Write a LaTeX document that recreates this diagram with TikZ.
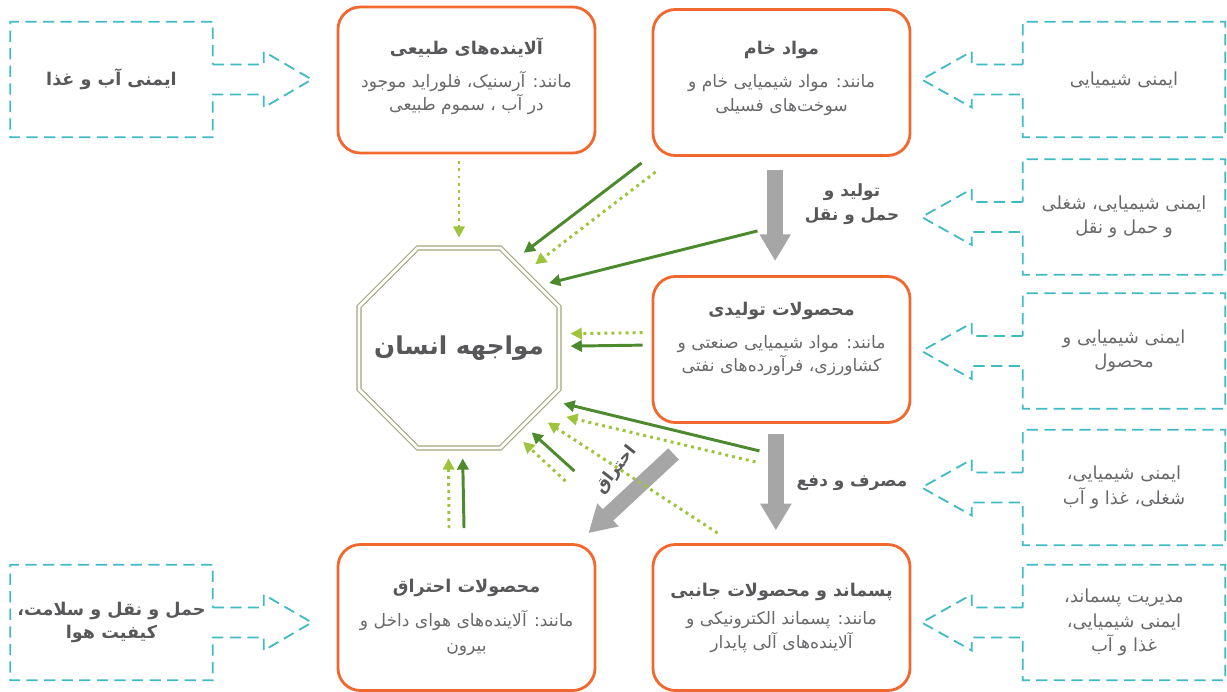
\documentclass[tikz,border=0pt]{standalone}
\usepackage{fontspec}
\usetikzlibrary{arrows.meta, shapes.geometric, positioning}
\TeXXeTstate=1
\newfontfamily\fafont[Script=Arabic]{DejaVu Sans}
\newcommand{\fa}[1]{\beginR #1\endR}
\definecolor{boxorange}{RGB}{240,104,45}
\definecolor{hintteal}{RGB}{64,186,196}
\definecolor{darkgreen}{RGB}{77,138,46}
\definecolor{lightgreen}{RGB}{157,196,60}
\definecolor{flowgray}{RGB}{166,166,166}
\definecolor{octolive}{RGB}{164,165,122}
\definecolor{titlegray}{RGB}{88,88,90}
\definecolor{bodygray}{RGB}{105,105,108}
\newcommand{\srctitle}[1]{{\fontsize{12.5}{17}\selectfont\bfseries\color{titlegray}\fa{#1}}}
\begin{document}
\begin{tikzpicture}[x=0.025cm, y=-0.025cm,
    every node/.style={font=\fafont\fontsize{12.2}{16.5}\selectfont, text=bodygray},
    srcbox/.style={draw=boxorange, line width=2pt, rounded corners=16pt, fill=white,
        minimum width=6.425cm, minimum height=3.65cm, align=center, inner sep=0pt},
    hintbox/.style={minimum width=5.05cm, minimum height=2.875cm, align=center, inner sep=0pt,
        font=\fafont\fontsize{12.8}{17.5}\selectfont},
    hintline/.style={draw=hintteal, line width=1.3pt, dash pattern=on 8pt off 4.5pt},
    flow/.style={draw=flowgray, line width=11pt, -{Triangle[length=19pt,width=21pt]}},
    solidarr/.style={draw=darkgreen, line width=2.1pt, -{Triangle[length=8pt,width=8pt]}},
    dotarr/.style={draw=lightgreen, line width=2.1pt, dash pattern=on 2.1pt off 2.9pt,
        -{Triangle[length=8pt,width=8pt]}},
    flowlabel/.style={font=\fafont\bfseries\fontsize{12}{17}\selectfont, text=titlegray, align=center}]
    \useasboundingbox (0,0) rectangle (1227,691);

    % Sources
    \node[srcbox] (natural) at (466.5,80)
        {\srctitle{آلاینده^^^^200cهای طبیعی}\\[7pt] \fa{مانند: آرسنیک، فلوراید موجود}\\ \fa{در آب ، سموم طبیعی}\\[-7.6pt]};
    \node[srcbox] (raw) at (781.5,82.5)
        {\srctitle{مواد خام}\\[7pt] \fa{مانند: مواد شیمیایی خام و}\\ \fa{سوخت^^^^200cهای فسیلی}\\[-7.6pt]};
    \node[srcbox] (prod) at (781.5,349.5)
        {\srctitle{محصولات تولیدی}\\[7pt] \fa{مانند: مواد شیمیایی صنعتی و}\\ \fa{کشاورزی، فرآورده^^^^200cهای نفتی}\\[2pt]};
    \node[srcbox] (waste) at (781.5,617.5)
        {\srctitle{پسماند و محصولات جانبی}\\[4pt] \fa{مانند: پسماند الکترونیکی و}\\ \fa{آلاینده^^^^200cهای آلی پایدار}};
    \node[srcbox] (comb) at (466.5,617.5)
        {\srctitle{محصولات احتراق}\\[8pt] \fa{مانند: آلاینده^^^^200cهای هوای داخل و}\\[1.5pt] \fa{بیرون}};

    % Human exposure
    \node[regular polygon, regular polygon sides=8, minimum size=5.41cm, inner sep=0pt,
        draw=octolive, line width=0.8pt, double=white, double distance=2pt,
        font=\fafont\bfseries\fontsize{17.5}{21}\selectfont, text=titlegray]
        (human) at (459,348) {\makebox[0pt]{\fa{مواجهه انسان}}};

    % Safety areas
    \node[hintbox, font=\fafont\bfseries\fontsize{12.5}{17.5}\selectfont, text=titlegray]
        (water) at (111.5,79.5) {\fa{ایمنی آب و غذا}};
    \node[hintbox, font=\fafont\bfseries\fontsize{12.5}{17}\selectfont, text=titlegray]
        (airq) at (111.5,622.5) {\fa{حمل و نقل و سلامت،}\\ \fa{کیفیت هوا}};
    \node[hintbox] (chem1) at (1124,79.5) {\fa{ایمنی شیمیایی}};
    \node[hintbox] (chem2) at (1124,217) {\fa{ایمنی شیمیایی، شغلی}\\ \fa{و حمل و نقل}};
    \node[hintbox] (chem3) at (1124,351) {\fa{ایمنی شیمیایی و}\\ \fa{محصول}};
    \node[hintbox] (chem4) at (1124,487.5) {\fa{ایمنی شیمیایی،}\\ \fa{شغلی، غذا و آب}};
    \node[hintbox] (chem5) at (1124,622.5) {\fa{مدیریت پسماند،}\\ \fa{ایمنی شیمیایی،}\\ \fa{غذا و آب}};

    % Dashed outlines with open arrows
    \foreach \n in {water, airq}
        \draw[hintline] (\n.east) ++(0,-15) -- ++(51,0) -- ++(0,-13) -- ++(48,28) -- ++(-48,28)
            -- ++(0,-13) -- ++(-51,0) -- (\n.south east) -- (\n.south west) -- (\n.north west)
            -- (\n.north east) -- cycle;
    \foreach \n in {chem1, chem2, chem3, chem4, chem5}
        \draw[hintline] (\n.west) ++(0,-15) -- ++(-51,0) -- ++(0,-13) -- ++(-50,28) -- ++(50,28)
            -- ++(0,-13) -- ++(51,0) -- (\n.south west) -- (\n.south east) -- (\n.north east)
            -- (\n.north west) -- cycle;

    % Life cycle flows
    \draw[flow, shorten <=9pt, shorten >=10pt] ([xshift=-4.5pt]raw.south) -- ([xshift=-4.5pt]prod.north);
    \draw[flow, shorten <=7.5pt, shorten >=9pt] ([xshift=-4pt]prod.south) -- ([xshift=-4pt]waste.north);
    \draw[flow] ([shift={(22,30)}]prod.south west) -- ([shift={(-8,-10)}]comb.north east);
    \node[flowlabel] (prodlabel) at (852,204) {\fa{تولید و}\\ \fa{حمل و نقل}};
    \node[flowlabel] (uselabel) at (852,483) {\fa{مصرف و دفع}};
    \node[flowlabel, rotate=52] (burnlabel) at (616,470) {\fa{احتراق}};

    % Exposure arrows
    \draw[dotarr, shorten <=5pt, shorten >=7pt] (natural.south -| human.90) -- (human.90);
    \draw[solidarr, shorten >=9pt] ([shift={(-10,6)}]raw.south west) -- (human.58.4);
    \draw[dotarr, shorten >=9pt] ([shift={(4,15)}]raw.south west) -- (human.49.9);
    \draw[solidarr, shorten >=7.5pt] ([shift={(-24,74)}]raw.south) -- (human.38.1);
    \draw[dotarr, shorten <=6.4pt, shorten >=7.8pt] ([shift={(0,-17)}]prod.west) -- (human.8.9);
    \draw[solidarr, shorten <=6.4pt, shorten >=7.8pt] ([shift={(0,-4.5)}]prod.west) -- (human.1.7);
    \draw[solidarr, shorten >=10.4pt] ([shift={(-22,27)}]prod.south) -- (human.330.9);
    \draw[dotarr, shorten >=20pt] ([shift={(-26,38)}]prod.south) -- (human.322.4);
    \draw[dotarr, shorten >=10.7pt] ([shift={(66,-10)}]waste.north west) -- (human.319.2);
    \draw[solidarr, shorten >=7.4pt] ([shift={(-22,-72)}]comb.north east) -- (human.310.6);
    \draw[dotarr, shorten >=7.9pt] ([shift={(-31,-62)}]comb.north east) -- (human.303.3);
    \draw[dotarr, shorten >=7pt] ([shift={(-17.5,-15)}]comb.north) -- (human.264.4);
    \draw[solidarr, shorten >=7pt] ([shift={(-2.5,-15)}]comb.north) -- (human.272.8);
\end{tikzpicture}
\end{document}
